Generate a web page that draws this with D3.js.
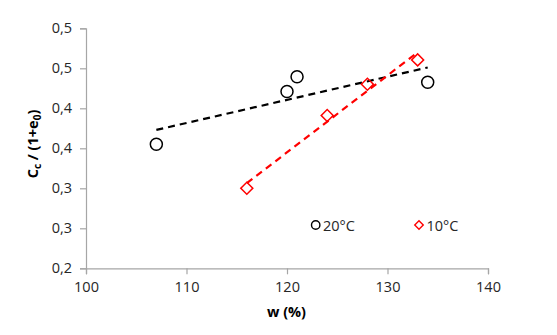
<!DOCTYPE html>
<html><head><meta charset="utf-8">
<script src="https://cdn.jsdelivr.net/npm/d3@7"></script>
<style>body{margin:0;background:#fff}svg{display:block}text{font-family:"Open Sans",sans-serif}</style>
</head><body>
<script>
const w20 = [107, 120, 121, 134];
const cc20 = [0.355, 0.421, 0.4395, 0.4325];
const w10 = [116, 124, 128, 133];
const cc10 = [0.300, 0.391, 0.430, 0.4605];
const xTicks = [100, 110, 120, 130, 140];
const yTicks = [0.20, 0.25, 0.30, 0.35, 0.40, 0.45, 0.50];
const yTickLabels = ["0,2", "0,3", "0,3", "0,4", "0,4", "0,5", "0,5"];
const seriesNames = ["20°C", "10°C"];

const W = 557, H = 335;
const FS = "14.5px";
const svg = d3.select("body").append("svg").attr("width", W).attr("height", H);
const x = d3.scaleLinear().domain([100, 140]).range([86, 488]);
const y = d3.scaleLinear().domain([0.20, 0.50]).range([268.3, 28.3]);

const axisColor = "#a6a6a6";
const xAxis = svg.append("g").attr("transform", "translate(0,268.3)")
  .call(d3.axisBottom(x).tickValues(xTicks).tickSize(6).tickPadding(7).tickFormat(d3.format("d")));
const yAxis = svg.append("g").attr("transform", "translate(86,0)")
  .call(d3.axisLeft(y).tickValues(yTicks).tickSize(6).tickPadding(8).tickFormat((d, i) => yTickLabels[i]));
[xAxis, yAxis].forEach(g => {
  g.select(".domain").attr("stroke", axisColor).attr("stroke-width", 1.2);
  g.selectAll(".tick line").attr("stroke", axisColor).attr("stroke-width", 1.2);
  g.selectAll(".tick text").attr("fill", "#262626").style("font-size", FS).style("font-family", "'Open Sans',sans-serif");
});

function fit(xs, ys) {
  const mx = d3.mean(xs), my = d3.mean(ys);
  const sxy = d3.sum(xs, (v, i) => (v - mx) * (ys[i] - my));
  const sxx = d3.sum(xs, v => (v - mx) * (v - mx));
  const b = sxy / sxx, a = my - b * mx;
  const x0 = d3.min(xs), x1 = d3.max(xs);
  return [[x0, a + b * x0], [x1, a + b * x1]];
}
const line = d3.line().x(d => x(d[0])).y(d => y(d[1]));
svg.append("path").attr("d", line(fit(w20, cc20))).attr("stroke", "#000").attr("stroke-width", 2.2)
  .attr("stroke-dasharray", "7,5").attr("fill", "none");
svg.append("path").attr("d", line(fit(w10, cc10))).attr("stroke", "#ff0000").attr("stroke-width", 2.2)
  .attr("stroke-dasharray", "7,5").attr("fill", "none");

svg.selectAll("circle.p20").data(w20).enter().append("circle")
  .attr("cx", d => x(d)).attr("cy", (d, i) => y(cc20[i])).attr("r", 6)
  .attr("fill", "none").attr("stroke", "#000").attr("stroke-width", 1.5);
const diamond = d3.symbol().type(d3.symbolSquare).size(72);
svg.selectAll("path.p10").data(w10).enter().append("path")
  .attr("d", diamond).attr("transform", (d, i) => `translate(${x(d)},${y(cc10[i])}) rotate(45)`)
  .attr("fill", "none").attr("stroke", "#ff0000").attr("stroke-width", 1.5);

// legend
const lg = svg.append("g");
lg.append("circle").attr("cx", 315.7).attr("cy", 225).attr("r", 4.2).attr("fill", "none").attr("stroke", "#000").attr("stroke-width", 1.4);
lg.append("text").attr("x", 323).attr("y", 230.5).text(seriesNames[0]).style("font-size", FS).attr("fill", "#262626");
lg.append("path").attr("d", d3.symbol().type(d3.symbolSquare).size(36)).attr("transform", "translate(419,225) rotate(45)")
  .attr("fill", "none").attr("stroke", "#ff0000").attr("stroke-width", 1.4);
lg.append("text").attr("x", 426.5).attr("y", 230.5).text(seriesNames[1]).style("font-size", FS).attr("fill", "#262626");

// titles
svg.append("text").attr("x", 286.5).attr("y", 316.5).attr("text-anchor", "middle")
  .style("font-size", FS).style("font-weight", "bold").attr("fill", "#000").text("w (%)");
const yt = svg.append("text").attr("transform", "translate(38,144) rotate(-90)").attr("text-anchor", "middle")
  .style("font-size", FS).style("font-weight", "bold").attr("fill", "#000");
yt.append("tspan").text("C");
yt.append("tspan").text("c").attr("dy", 3).style("font-size", "10px");
yt.append("tspan").text(" / (1+e").attr("dy", -3);
yt.append("tspan").text("0").attr("dy", 3).style("font-size", "10px");
yt.append("tspan").text(")").attr("dy", -3);
</script>
</body></html>
